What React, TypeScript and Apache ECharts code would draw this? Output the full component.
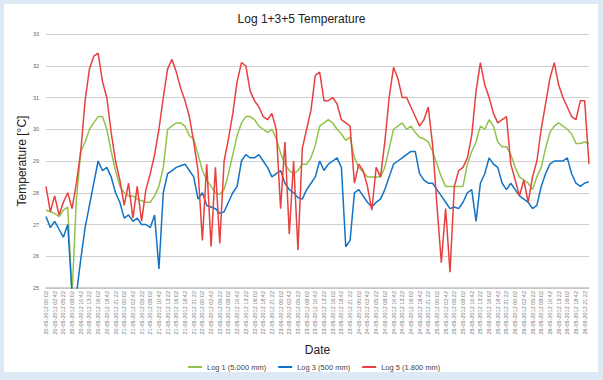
import React, { useEffect, useRef } from "react";
import * as echarts from "echarts";

const DAYS = ["20-05-2012", "21-05-2012", "22-05-2012", "23-05-2012", "24-05-2012", "25-05-2012", "26-05-2012"];
const TIMES = ["00:02", "01:22", "02:42", "04:02", "05:22", "06:42", "08:02", "09:22", "10:42", "12:02", "13:22", "14:42", "16:02", "17:22", "18:42", "20:02", "21:22", "22:42"];
const CATEGORIES = DAYS.flatMap((d) => TIMES.map((t) => `${d} ${t}`));

const SERIES_NAMES = ["Log 1 (5.000 mm)", "Log 3 (500 mm)", "Log 5 (1.800 mm)"];
const Y_MIN = 25;
const Y_MAX = 33;

const LOG1 = [
  27.45, 27.4, 27.35, 27.25, 27.45, 27.55, 24.8, 27.8, 29.3, 29.6, 30.0, 30.2, 30.4, 30.4, 30.0, 29.3, 28.7, 28.2,
  28.0, 27.9, 27.9, 27.8, 27.75, 27.7, 27.7, 27.9, 28.2, 28.8, 30.0, 30.1, 30.2, 30.2, 30.1, 29.8, 29.7, 29.2,
  28.7, 28.4, 28.2, 28.0, 27.95, 28.1, 28.6, 29.2, 29.8, 30.2, 30.4, 30.4, 30.3, 30.1, 30.0, 29.9, 30.0, 29.7,
  29.25, 28.9, 28.7, 28.6, 28.7, 28.9, 28.9, 29.1, 29.5, 30.1, 30.2, 30.3, 30.2, 30.0, 29.85, 29.65, 29.75, 29.1,
  28.8, 28.65, 28.5, 28.5, 28.5, 28.5, 28.8, 29.4, 30.0, 30.1, 30.2, 30.0, 30.1, 29.9, 29.75, 29.7, 29.6, 29.3,
  28.9, 28.5, 28.2, 28.2, 28.2, 28.2, 28.2, 28.9, 29.3, 29.6, 30.1, 30.0, 30.3, 30.1, 29.6, 29.45, 29.45, 29.2,
  28.8, 28.5, 28.4, 28.3, 28.1, 28.5, 28.8, 29.4, 29.9, 30.1, 30.2, 30.1, 30.0, 29.85, 29.55, 29.55, 29.6, 29.55,
];

const LOG3 = [
  27.25, 26.9, 27.1, 26.85, 26.6, 27.0, 24.8, 24.8, 25.9, 26.9, 27.6, 28.3, 29.0, 28.7, 28.8, 28.5, 28.0, 27.7,
  27.2, 27.3, 27.1, 27.2, 27.0, 27.0, 26.9, 27.3, 25.6, 28.0, 28.6, 28.7, 28.8, 28.85, 28.9, 28.7, 28.5, 27.8,
  28.0, 27.6, 27.55, 27.5, 27.35, 27.4, 27.7, 28.0, 28.2, 29.0, 29.2, 29.1, 29.1, 29.2, 29.0, 28.8, 28.5, 28.6,
  28.7, 28.3, 28.1, 28.0, 27.85, 27.8, 28.1, 28.3, 28.5, 29.0, 28.7, 28.9, 29.0, 29.1, 28.8, 26.3, 26.5, 28.0,
  28.1, 27.9, 27.7, 27.55, 27.7, 27.8, 28.1, 28.5, 28.9, 29.0, 29.1, 29.2, 29.3, 29.3, 28.6, 28.4, 28.3, 28.3,
  28.1, 27.9, 27.7, 27.5, 27.55, 27.5, 27.7, 28.0, 28.1, 27.1, 28.3, 28.6, 29.1, 28.9, 28.8, 28.3, 28.1, 28.3,
  28.1, 27.9, 27.8, 27.7, 27.5, 27.6, 28.2, 28.6, 28.9, 29.0, 29.0, 29.0, 29.1, 28.6, 28.3, 28.2, 28.3, 28.35,
];

const LOG5 = [
  28.2, 27.4, 27.9, 27.3, 27.7, 28.0, 27.5, 28.3, 29.3, 30.9, 31.9, 32.3, 32.4, 31.5, 31.0, 29.9, 29.0, 28.4,
  27.6, 28.3, 27.2, 28.2, 27.1, 28.1, 28.6, 29.2, 30.0, 31.0, 31.9, 32.2, 31.8, 31.3, 30.9, 30.4, 29.6, 28.7,
  26.5, 28.9, 26.3, 28.8, 26.4, 29.0, 29.7, 30.5, 31.5, 32.1, 32.0, 31.2, 30.9, 30.7, 30.4, 30.3, 30.5, 30.0,
  27.5, 29.6, 26.7, 29.0, 26.2, 29.4, 30.0, 30.6, 31.7, 31.8, 30.9, 30.9, 31.0, 30.8, 30.3, 30.2, 30.1, 28.3,
  28.9, 28.7, 28.2, 27.45, 28.8, 28.5, 29.6, 31.0, 31.95, 31.6, 31.0, 31.0, 30.7, 30.4, 30.1, 30.3, 30.7, 29.5,
  27.6, 25.8, 27.5, 25.5, 28.2, 28.7, 28.8, 29.1, 29.8, 31.2, 32.1, 31.4, 31.0, 30.5, 30.2, 30.3, 30.4, 28.9,
  28.4, 27.9, 28.4, 27.7, 28.5, 29.0, 30.0, 30.8, 31.6, 32.1, 31.4, 31.0, 30.7, 30.4, 30.3, 30.9, 30.9, 28.9,
];

const COLORS = ["#93c24a", "#1172c6", "#e8403f"];

export default function App() {
  const ref = useRef<HTMLDivElement>(null);
  useEffect(() => {
    if (!ref.current) return;
    const chart = echarts.init(ref.current, null, { renderer: "svg" });
    const font = "'Liberation Sans', Arial, sans-serif";
    chart.setOption({
      animation: false,
      backgroundColor: "#dde9f5",
      textStyle: { fontFamily: font },
      graphic: [
        {
          type: "rect",
          shape: { x: 4, y: 4, width: 594, height: 368 },
          style: { fill: "#ffffff" },
          z: -100,
          silent: true,
        },
      ],
      title: {
        text: "Log 1+3+5 Temperature",
        left: "center",
        top: 8,
        textStyle: { fontSize: 12, fontWeight: "normal", color: "#222", fontFamily: font },
      },
      grid: { left: 46, right: 14, top: 34, bottom: 92 },
      legend: {
        data: SERIES_NAMES,
        left: 183,
        top: 358,
        icon: "rect",
        itemWidth: 14,
        itemHeight: 2,
        itemGap: 12,
        textStyle: { fontSize: 7.5, color: "#444", fontFamily: font },
      },
      xAxis: {
        type: "category",
        data: CATEGORIES,
        boundaryGap: false,
        name: "Date",
        nameLocation: "middle",
        nameGap: 56,
        nameTextStyle: { fontSize: 12, color: "#222", fontFamily: font },
        axisLine: { lineStyle: { color: "#c4c4c4", width: 1.5 } },
        axisTick: { show: false },
        axisLabel: { interval: 1, rotate: 90, fontSize: 5.5, color: "#777", margin: 3 },
        splitLine: { show: false },
      },
      yAxis: {
        type: "value",
        min: Y_MIN,
        max: Y_MAX,
        interval: 1,
        name: "Temperature [°C]",
        nameLocation: "middle",
        nameGap: 18,
        nameMoveOverlap: false,
        nameTextStyle: { fontSize: 12, color: "#222", fontFamily: font },
        axisLine: { show: false },
        axisTick: { show: false },
        axisLabel: { fontSize: 5.5, color: "#666", margin: 7 },
        splitLine: { lineStyle: { color: "#cfcfcf", width: 1 } },
      },
      series: [LOG1, LOG3, LOG5].map((data, i) => ({
        name: SERIES_NAMES[i],
        type: "line",
        data,
        symbol: "none",
        clip: true,
        color: COLORS[i],
        lineStyle: { width: 1.5, color: COLORS[i] },
      })),
    });
    return () => chart.dispose();
  }, []);
  return <div ref={ref} style={{ position: "fixed", left: 0, top: 0, width: 603, height: 380 }} />;
}
